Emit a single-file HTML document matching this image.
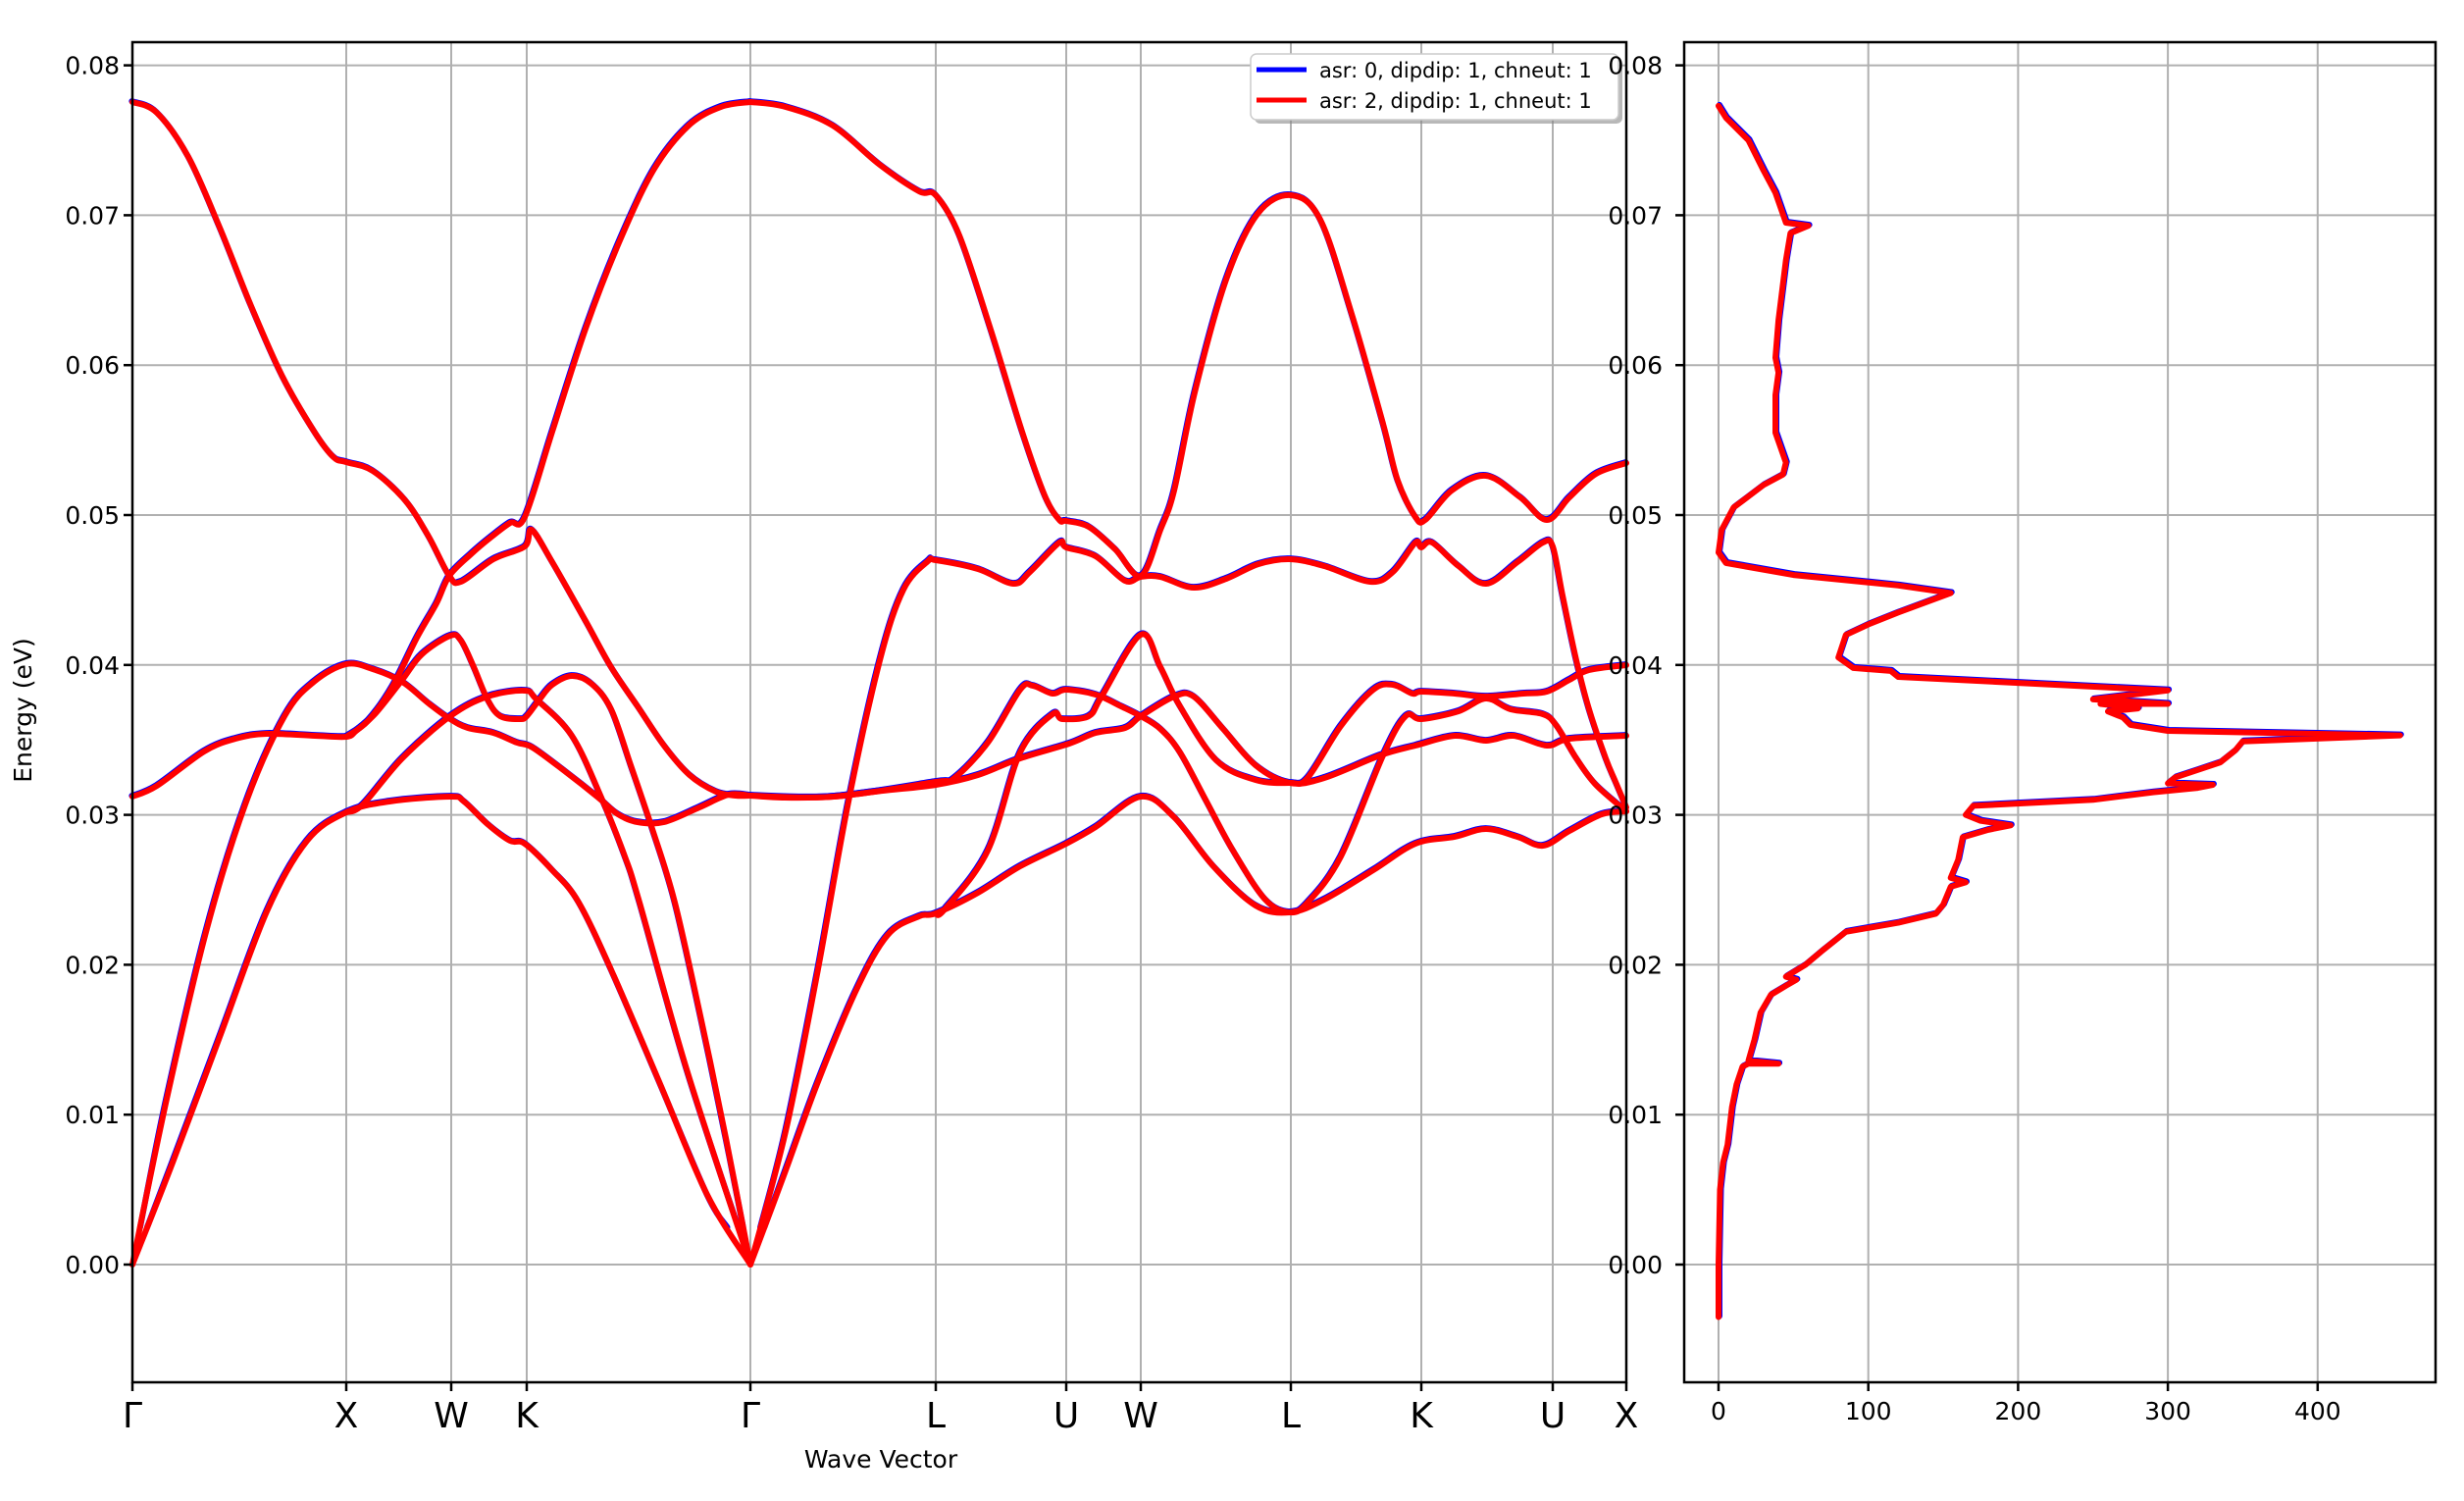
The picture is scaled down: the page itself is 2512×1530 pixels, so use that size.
<!DOCTYPE html>
<html><head><meta charset="utf-8"><style>
html,body{margin:0;padding:0;background:#fff;}
svg{display:block;font-family:"DejaVu Sans","Liberation Sans",sans-serif;}
</style></head><body>
<svg id="s" width="2512" height="1530" viewBox="0 0 2512 1530" xmlns="http://www.w3.org/2000/svg">
<rect width="2512" height="1530" fill="#fff"/>
<g id="grid" stroke="#b0b0b0" stroke-width="2"></g>
<g id="blue" fill="none" stroke="#0000ff" stroke-width="6" stroke-linejoin="round" stroke-linecap="round"></g>
<g id="red" fill="none" stroke="#ff0000" stroke-width="6" stroke-linejoin="round" stroke-linecap="round"></g>
<g id="axes" fill="none" stroke="#000" stroke-width="2.5"></g>
<g id="labels" fill="#000" font-size="25"></g>
<text x="898" y="1496" font-size="25" text-anchor="middle">Wave Vector</text>
<text transform="translate(32,724) rotate(-90)" font-size="25" text-anchor="middle">Energy (eV)</text>
<rect x="1279" y="59" width="375" height="67" rx="6" fill="#888" opacity="0.6"/>
<rect x="1275" y="55" width="375" height="67" rx="6" fill="#fff" stroke="#ccc" stroke-width="1.5"/>
<line x1="1281" y1="71" x2="1332" y2="71" stroke="#0000ff" stroke-width="5"/>
<line x1="1281" y1="102" x2="1332" y2="102" stroke="#ff0000" stroke-width="5"/>
<text x="1345" y="79" font-size="21">asr: 0, dipdip: 1, chneut: 1</text>
<text x="1345" y="110" font-size="21">asr: 2, dipdip: 1, chneut: 1</text>
<g id="labels2" fill="#000" font-size="25"></g>
</svg>
<script>
var NS="http://www.w3.org/2000/svg";
function el(p,t,a,txt){var e=document.createElementNS(NS,t);for(var k in a)e.setAttribute(k,a[k]);if(txt!==undefined)e.textContent=txt;document.getElementById(p).appendChild(e);return e;}
var L=135,R=1658,T=43,B=1409,R2L=1717,R2R=2483;
function Y(E){return 1289-E*15280;}
var xt=[[135,"Γ"],[353,"X"],[460,"W"],[537,"K"],[765,"Γ"],[954,"L"],[1087,"U"],[1163,"W"],[1316,"L"],[1449,"K"],[1583,"U"],[1658,"X"]];
for(var i=0;i<=8;i++){var y=Y(i/100);
 el("grid","line",{x1:L,x2:R,y1:y,y2:y});el("grid","line",{x1:R2L,x2:R2R,y1:y,y2:y});
 el("axes","line",{x1:L-9,x2:L,y1:y,y2:y});el("axes","line",{x1:R2L-9,x2:R2L,y1:y,y2:y});
 el("labels","text",{x:L-13,y:y+9,"text-anchor":"end"},"0.0"+i);
 el("labels2","text",{x:1695,y:y+9,"text-anchor":"end"},"0.0"+i);
}
xt.forEach(function(t){el("grid","line",{x1:t[0],x2:t[0],y1:T,y2:B});el("axes","line",{x1:t[0],x2:t[0],y1:B,y2:B+9});
 el("labels","text",{x:t[0],y:1455,"text-anchor":"middle","font-size":"36"},t[1]);});
for(var v=0;v<=400;v+=100){var x=1752+v*1.527;el("grid","line",{x1:x,x2:x,y1:T,y2:B});el("axes","line",{x1:x,x2:x,y1:B,y2:B+9});
 el("labels","text",{x:x,y:1447,"text-anchor":"middle"},""+v);}
el("axes","rect",{x:L,y:T,width:R-L,height:B-T});
el("axes","rect",{x:R2L,y:T,width:R2R-R2L,height:B-T});
function cr(p){var d="M"+p[0][0]+","+p[0][1];for(var i=0;i<p.length-1;i++){var p0=p[i-1]||p[i],p1=p[i],p2=p[i+1],p3=p[i+2]||p2;
 var c1=[p1[0]+(p2[0]-p0[0])/6,p1[1]+(p2[1]-p0[1])/6],c2=[p2[0]-(p3[0]-p1[0])/6,p2[1]-(p3[1]-p1[1])/6];
 d+="C"+c1[0].toFixed(1)+","+c1[1].toFixed(1)+" "+c2[0].toFixed(1)+","+c2[1].toFixed(1)+" "+p2[0]+","+p2[1];}return d;}
var C=[
[[135,104],[160,115],[192,160],[224,232],[256,312],[288,384],[321,441],[340,466],[353,471],[380,480],[413,510],[437,547],[458,587],[470,593],[503,570],[535,557],[542,540],[563,573],[597,633],[623,680],[650,720],[677,760],[703,790],[730,807],[750,811],[765,811]],
[[135,812],[160,801],[208,766],[240,753],[272,748],[321,750],[353,751],[363,745],[383,727],[410,693],[430,667],[459,648],[470,653],[483,680],[497,713],[510,730],[530,733],[537,730],[550,713],[563,698],[583,689],[603,697],[623,723],[643,780],[665,845],[688,920],[715,1040],[740,1160],[765,1289]],
[[135,1289],[170,1120],[210,950],[250,820],[290,730],[320,695],[353,677],[380,682],[410,695],[437,717],[459,733],[477,742],[503,747],[527,757],[543,762],[577,787],[610,813],[630,830],[650,838],[677,838],[713,823],[743,810],[765,811]],
[[135,1289],[176,1185],[224,1057],[272,929],[313,857],[353,828],[397,817],[459,812],[473,817],[497,840],[520,857],[535,860],[563,887],[590,920],[625,993],[673,1105],[721,1218],[765,1289]],
[[353,828],[370,820],[410,773],[459,730],[497,710],[535,704],[547,713],[583,750],[613,813],[637,873],[652,920],[700,1090],[765,1289]],
[[353,751],[375,735],[400,700],[425,650],[445,615],[458,587],[480,565],[500,548],[520,533],[535,527],[563,440],[597,335],[632,245],[667,172],[702,128],[735,109],[765,104]],
[[765,104],[801,109],[849,128],[897,168],[937,195],[954,199],[978,240],[1010,336],[1042,440],[1065,505],[1080,530],[1087,531],[1110,537],[1137,560],[1163,587],[1183,540],[1197,500],[1218,400],[1250,285],[1282,218],[1316,199],[1346,224],[1378,320],[1410,432],[1425,490],[1443,527],[1453,530],[1480,500],[1515,485],[1550,507],[1577,530],[1600,507],[1627,483],[1658,472]],
[[765,1289],[801,1153],[833,993],[865,817],[897,673],[921,601],[946,572],[954,571],[997,580],[1033,595],[1050,583],[1080,553],[1087,558],[1117,567],[1147,592],[1163,588],[1183,588],[1217,599],[1250,590],[1283,575],[1315,570],[1350,577],[1397,593],[1420,583],[1443,553],[1449,558],[1460,553],[1487,577],[1515,595],[1547,573],[1573,553],[1583,557],[1593,607],[1607,673],[1620,723],[1637,773],[1647,797],[1658,823]],
[[765,811],[800,813],[850,812],[900,806],[954,800],[997,790],[1040,773],[1090,758],[1117,747],[1147,742],[1163,730],[1197,710],[1217,710],[1247,743],[1280,780],[1315,798],[1350,793],[1407,770],[1443,760],[1483,750],[1515,755],[1543,750],[1577,760],[1600,753],[1658,750]],
[[765,811],[850,812],[954,797],[973,793],[1007,757],[1040,703],[1053,699],[1073,707],[1087,703],[1117,708],[1143,720],[1163,730],[1183,743],[1203,767],[1230,817],[1257,867],[1290,917],[1315,930],[1333,920],[1367,873],[1410,770],[1433,730],[1449,733],[1487,725],[1515,712],[1540,723],[1573,728],[1587,740],[1607,773],[1627,800],[1658,827]],
[[765,1289],[801,1193],[833,1105],[873,1009],[905,953],[937,934],[954,931],[997,910],[1040,883],[1087,860],[1117,843],[1163,812],[1197,833],[1237,883],[1280,923],[1315,930],[1350,917],[1400,887],[1443,860],[1483,853],[1515,845],[1547,853],[1573,862],[1600,847],[1633,830],[1658,827]],
[[954,931],[963,927],[1007,867],[1040,767],[1073,728],[1083,733],[1110,730],[1123,710],[1163,647],[1183,680],[1203,720],[1240,775],[1280,795],[1315,798],[1333,793],[1367,740],[1400,703],[1420,698],[1440,707],[1449,705],[1483,707],[1515,710],[1553,707],[1577,705],[1600,693],[1620,683],[1658,678]]
];
C.forEach(function(p){
 var b=p.map(function(q){return [q[0]-0.6,q[1]-0.9];});
 var n=b.length;
 // blue acoustic endpoints at Γ lifted to 0.0025: only shift the tip
 if((Math.abs(p[0][0]-135)<1||Math.abs(p[0][0]-765)<1)&&p[0][1]>1280){var dx=p[1][0]-p[0][0],dy=p[1][1]-p[0][1];var t=38/Math.abs(dy);b[0]=[p[0][0]+dx*t,1251];}
 if((Math.abs(p[n-1][0]-765)<1)&&p[n-1][1]>1280){var dx=p[n-2][0]-p[n-1][0],dy=p[n-2][1]-p[n-1][1];var t=38/Math.abs(dy);b[n-1]=[p[n-1][0]+dx*t,1251];}
 el("blue","path",{d:cr(b)});el("red","path",{d:cr(p)});});
var D=[[0,-0.0035],[0,0],[1,0.005],[3,0.0068],[6,0.008],[9,0.0105],[12,0.012],[16,0.0132],[20,0.0134],[40,0.0134],[20,0.0136],[24,0.015],[28,0.0168],[35,0.018],[45,0.0186],[52,0.019],[45,0.0192],[58,0.02],[70,0.021],[85,0.0222],[120,0.0228],[145,0.0234],[150,0.024],[155,0.0252],[165,0.0255],[155,0.0258],[160,0.027],[163,0.0285],[180,0.029],[195,0.0293],[175,0.0296],[165,0.03],[170,0.0306],[250,0.031],[290,0.0315],[320,0.0318],[330,0.032],[300,0.0321],[305,0.0325],[320,0.033],[335,0.0335],[345,0.0343],[350,0.0349],[455,0.0353],[300,0.0356],[275,0.036],[270,0.0365],[260,0.0369],[280,0.0371],[255,0.0374],[300,0.0374],[250,0.0377],[300,0.0383],[200,0.0388],[120,0.0392],[115,0.0396],[90,0.0398],[80,0.0405],[85,0.042],[100,0.0427],[120,0.0435],[155,0.0448],[120,0.0453],[50,0.046],[5,0.0468],[0,0.0475],[2,0.049],[10,0.0505],[30,0.052],[43,0.0527],[45,0.0535],[38,0.0555],[38,0.058],[40,0.0595],[38,0.0605],[40,0.063],[45,0.067],[48,0.0688],[60,0.0693],[45,0.0695],[38,0.0715],[30,0.073],[20,0.075],[5,0.0765],[0,0.0773]];
var pb="",pr="";D.forEach(function(d,i){var x=1752+d[0]*1.527,y=Y(d[1]);pr+=(i?"L":"M")+x.toFixed(1)+","+y.toFixed(1);pb+=(i?"L":"M")+(x+1).toFixed(1)+","+(y-1).toFixed(1);});
el("blue","path",{d:pb});el("red","path",{d:pr});
</script>
</body></html>
